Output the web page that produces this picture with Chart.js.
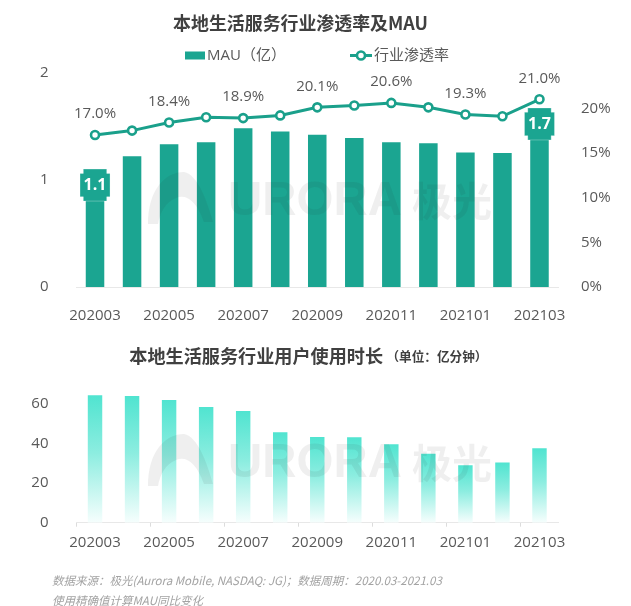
<!DOCTYPE html>
<html>
<head>
<meta charset="utf-8">
<script src="https://cdn.jsdelivr.net/npm/chart.js@4.4.0/dist/chart.umd.min.js"></script>
<style>
html,body{margin:0;padding:0;background:#ffffff;}
#wrap{position:relative;width:631px;height:606px;overflow:hidden;background:#fff;}
#c1{position:absolute;left:0;top:0;}
#c2{position:absolute;left:0;top:330px;}
</style>
</head>
<body>
<div id="wrap">
<canvas id="c1" width="631" height="330"></canvas>
<canvas id="c2" width="631" height="276"></canvas>
</div>
<script>
// ---------- data ----------
const months = ['202003','202004','202005','202006','202007','202008','202009','202010','202011','202012','202101','202102','202103'];
const mau = [1.09, 1.22, 1.33, 1.35, 1.48, 1.45, 1.42, 1.39, 1.35, 1.34, 1.255, 1.25, 1.66];
const penetration = [17.0, 17.5, 18.4, 19.0, 18.9, 19.2, 20.1, 20.3, 20.6, 20.1, 19.3, 19.1, 21.0];
const duration = [64.4, 64.0, 62.0, 58.5, 56.4, 45.7, 43.3, 43.2, 39.7, 34.8, 29.0, 30.4, 37.6];
const mauTickStep = 1;
const rateTickStep = 5;
const durationTickStep = 20;

const title1 = '本地生活服务行业渗透率及MAU';
const title2Main = '本地生活服务行业用户使用时长';
const title2Unit = '（单位：亿分钟）';
const mauLabel = 'MAU（亿）';
const rateLabel = '行业渗透率';
const note1 = '数据来源：极光(Aurora Mobile, NASDAQ: JG)；数据周期：2020.03-2021.03';
const note2 = '使用精确值计算MAU同比变化';

// ---------- styles ----------
const TEAL = '#1ba591';
const LINE = '#1aa08b';
const TXT = '#595959';
const FONT = '"Open Sans", "Noto Sans CJK SC", sans-serif';
const CJK = '"Noto Sans CJK SC", "Open Sans", sans-serif';
Chart.defaults.font.family = FONT;

function fitFont(ctx, text, weight, style, family, width, base) {
  ctx.font = style + ' ' + weight + ' ' + base + 'px ' + family;
  const w = ctx.measureText(text).width;
  const size = base * width / w;
  ctx.font = style + ' ' + weight + ' ' + size + 'px ' + family;
  return size;
}

function watermark(ctx, yc) {
  ctx.save();
  ctx.fillStyle = 'rgba(40,40,40,0.075)';
  // logo
  const t = yc - 28, b = yc + 24;
  ctx.beginPath();
  ctx.moveTo(148, b);
  ctx.bezierCurveTo(148, t + 18, 165, t, 184, t);
  ctx.bezierCurveTo(198, t + 2, 208, b - 20, 213, b - 2);
  ctx.lineTo(204, b - 2);
  ctx.bezierCurveTo(196, b - 24, 186, b - 30, 176, b - 26);
  ctx.bezierCurveTo(166, b - 22, 160, b - 12, 158, b);
  ctx.closePath();
  ctx.fill();
  ctx.textBaseline = 'middle';
  ctx.textAlign = 'left';
  ctx.font = 'bold 46px "DejaVu Sans", sans-serif';
  fitFont(ctx, 'URORA', 'bold', 'normal', '"Liberation Sans", sans-serif', 174, 46);
  ctx.fillText('URORA', 228, yc + 2);
  fitFont(ctx, '极光', 'bold', 'normal', CJK, 80, 40);
  ctx.fillText('极光', 412, yc + 1);
  ctx.restore();
}

// ---------- top chart plugin ----------
const topDecor = {
  id: 'topDecor',
  afterDatasetsDraw(chart) {
    const ctx = chart.ctx;
    watermark(ctx, 200);
    // line value labels
    const lineMeta = chart.getDatasetMeta(1);
    ctx.save();
    ctx.fillStyle = TXT;
    ctx.font = '15px ' + FONT;
    ctx.textAlign = 'center';
    ctx.textBaseline = 'middle';
    lineMeta.data.forEach((pt, i) => {
      if (i % 2 === 0) ctx.fillText(penetration[i].toFixed(1) + '%', pt.x, pt.y - 21);
    });
    // bar value boxes (first & last)
    const barMeta = chart.getDatasetMeta(0);
    [0, mau.length - 1].forEach(i => {
      const el = barMeta.data[i];
      const l = el.x - 15, r = el.x + 15, t = el.y - 1, bt = el.y + 31;
      const nx = 3.3, ny = 4.3;
      ctx.beginPath();
      ctx.moveTo(l + nx, t); ctx.lineTo(r - nx, t); ctx.lineTo(r - nx, t + ny); ctx.lineTo(r, t + ny);
      ctx.lineTo(r, bt - ny); ctx.lineTo(r - nx, bt - ny); ctx.lineTo(r - nx, bt); ctx.lineTo(l + nx, bt);
      ctx.lineTo(l + nx, bt - ny); ctx.lineTo(l, bt - ny); ctx.lineTo(l, t + ny); ctx.lineTo(l + nx, t + ny);
      ctx.closePath();
      ctx.fillStyle = TEAL;
      ctx.fill();
      ctx.strokeStyle = 'rgba(255,255,255,0.35)';
      ctx.lineWidth = 0.8;
      ctx.stroke();
      ctx.fillStyle = '#ffffff';
      ctx.font = 'bold 16px ' + FONT;
      ctx.fillText(mau[i].toFixed(1), el.x, (t + bt) / 2 + 0.5);
    });
    ctx.restore();
  },
  afterDraw(chart) {
    const ctx = chart.ctx;
    ctx.save();
    // title
    ctx.fillStyle = '#404040';
    ctx.textBaseline = 'middle';
    ctx.textAlign = 'center';
    fitFont(ctx, title1, 'bold', 'normal', CJK, 255, 19);
    ctx.fillText(title1, 300.5, 23);
    // legend
    const ds = chart.data.datasets;
    ctx.textAlign = 'left';
    ctx.font = '15px ' + FONT;
    ctx.fillStyle = ds[0].backgroundColor;
    ctx.fillRect(185, 51.5, 20, 8);
    ctx.fillStyle = TXT;
    ctx.fillText(ds[0].label, 207, 55.5);
    ctx.strokeStyle = ds[1].borderColor;
    ctx.lineWidth = 3;
    ctx.beginPath(); ctx.moveTo(350, 55.5); ctx.lineTo(372, 55.5); ctx.stroke();
    ctx.beginPath(); ctx.arc(361, 55.5, 4, 0, Math.PI * 2);
    ctx.fillStyle = '#fff'; ctx.fill();
    ctx.lineWidth = 2.6; ctx.stroke();
    ctx.fillStyle = TXT;
    ctx.fillText(ds[1].label, 374, 55.5);
    ctx.restore();
  }
};

new Chart(document.getElementById('c1'), {
  data: {
    labels: months,
    datasets: [
      { type: 'bar', label: mauLabel, data: mau, yAxisID: 'y', backgroundColor: TEAL,
        barPercentage: 0.5, categoryPercentage: 1, order: 1 },
      { type: 'line', label: rateLabel, data: penetration, yAxisID: 'y2', borderColor: LINE,
        borderWidth: 3, tension: 0, pointRadius: 4, pointBorderWidth: 2.6,
        pointBackgroundColor: '#ffffff', pointBorderColor: LINE, order: 0 }
    ]
  },
  options: {
    responsive: false,
    animation: false,
    events: [],
    layout: { padding: { top: 72.5, left: 0, right: 0, bottom: 0 } },
    plugins: { legend: { display: false }, tooltip: { enabled: false }, title: { display: false } },
    scales: {
      x: {
        grid: { display: false },
        border: { display: true, color: '#e8e8e8', width: 1 },
        ticks: { autoSkip: false, maxRotation: 0, padding: 12, color: TXT, font: { size: 15 },
          callback: (v, i) => (i % 2 === 0 ? months[i] : '') },
        afterFit: s => { s.height = 43; }
      },
      y: {
        position: 'left', min: 0, max: 2,
        grid: { display: false }, border: { display: false },
        ticks: { stepSize: mauTickStep, padding: 20, color: TXT, font: { size: 15 } },
        afterFit: s => { s.width = 76.5; }
      },
      y2: {
        position: 'right', min: 0, max: 24,
        grid: { display: false }, border: { display: false },
        ticks: { stepSize: rateTickStep, padding: 15, color: TXT, font: { size: 15 },
          callback: v => (v % rateTickStep === 0 ? v + '%' : '') },
        afterFit: s => { s.width = 73; }
      }
    }
  },
  plugins: [topDecor]
});

// ---------- bottom chart ----------
const bottomDecor = {
  id: 'bottomDecor',
  afterDatasetsDraw(chart) {
    watermark(chart.ctx, 132);
  },
  afterDraw(chart) {
    const ctx = chart.ctx;
    ctx.save();
    ctx.fillStyle = '#404040';
    ctx.textBaseline = 'middle';
    ctx.textAlign = 'left';
    fitFont(ctx, title2Main, 'bold', 'normal', CJK, 254, 18);
    ctx.fillText(title2Main, 129.3, 26);
    fitFont(ctx, title2Unit, 'bold', 'normal', CJK, 101, 13);
    ctx.fillText(title2Unit, 386.5, 26.5);
    ctx.fillStyle = '#a3a3a3';
    fitFont(ctx, note1, 'normal', 'italic', CJK, 390, 12);
    ctx.fillText(note1, 52, 251);
    const sz = parseFloat(ctx.font.match(/([\d.]+)px/)[1]);
    ctx.font = 'italic normal ' + sz + 'px ' + CJK;
    ctx.fillText(note2, 52, 271);
    ctx.restore();
  }
};

function barGradient(c) {
  const chart = c.chart;
  if (!chart.chartArea) return '#50e4d0';
  const ys = chart.scales.y;
  const top = ys.getPixelForValue(duration[c.dataIndex]);
  const bottom = ys.getPixelForValue(0);
  const g = chart.ctx.createLinearGradient(0, top, 0, bottom);
  g.addColorStop(0, '#50e4d0');
  g.addColorStop(0.45, '#8cede0');
  g.addColorStop(1, '#f6fefd');
  return g;
}

new Chart(document.getElementById('c2'), {
  type: 'bar',
  data: {
    labels: months,
    datasets: [
      { label: '用户使用时长', data: duration, backgroundColor: barGradient,
        barPercentage: 0.39, categoryPercentage: 1 }
    ]
  },
  options: {
    responsive: false,
    animation: false,
    events: [],
    layout: { padding: { top: 54.2, left: 0, right: 73, bottom: 0 } },
    plugins: { legend: { display: false }, tooltip: { enabled: false }, title: { display: false } },
    scales: {
      x: {
        grid: { display: true, drawOnChartArea: false, drawTicks: true, tickLength: 4, offset: true,
          color: c => (c.index % 2 === 0 ? '#dcdcdc' : 'rgba(0,0,0,0)') },
        border: { display: true, color: '#e8e8e8', width: 1 },
        ticks: { autoSkip: false, maxRotation: 0, padding: 7.3, color: TXT, font: { size: 15 },
          callback: (v, i) => (i % 2 === 0 ? months[i] : '') },
        afterFit: s => { s.height = 83.3; }
      },
      y: {
        min: 0, max: 70,
        grid: { display: false }, border: { display: false },
        ticks: { stepSize: durationTickStep, padding: 20, color: TXT, font: { size: 15 },
          callback: v => (v % durationTickStep === 0 ? v : '') },
        afterFit: s => { s.width = 76.5; }
      }
    }
  },
  plugins: [bottomDecor]
});
</script>
</body>
</html>
